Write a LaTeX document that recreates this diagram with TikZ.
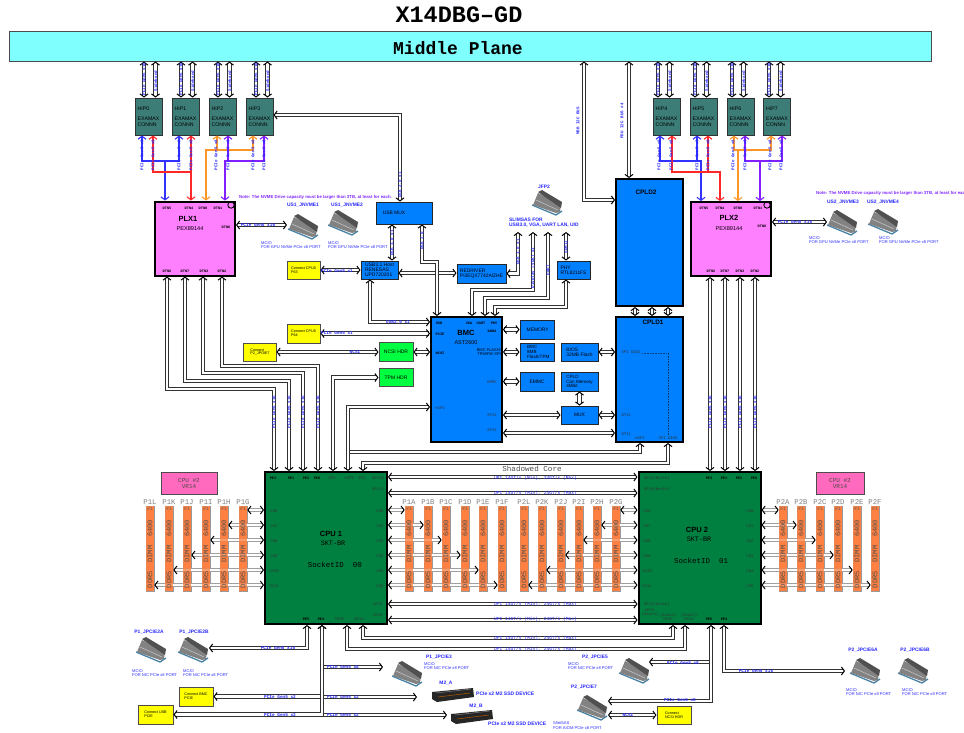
\documentclass[tikz,border=0pt]{standalone}
\usepackage{fontspec}
\setmainfont{Liberation Sans}
\setmonofont{Liberation Mono}
\usetikzlibrary{arrows.meta}
\definecolor{myplane}{RGB}{128,255,255}
\definecolor{myhip}{RGB}{60,125,120}
\definecolor{myplx}{RGB}{255,128,255}
\definecolor{myblue}{RGB}{0,128,255}
\definecolor{mycpu}{RGB}{0,128,64}
\definecolor{mygreen}{RGB}{0,255,64}
\definecolor{myyellow}{RGB}{255,255,0}
\definecolor{mydimm}{RGB}{255,128,64}
\definecolor{myvr}{RGB}{255,105,190}
\definecolor{mybus}{RGB}{50,50,50}
\definecolor{mylabel}{RGB}{40,40,255}
\definecolor{mynote}{RGB}{128,40,255}
\definecolor{wireblue}{RGB}{50,50,255}
\definecolor{wirered}{RGB}{255,40,40}
\definecolor{wireorange}{RGB}{255,150,40}
\definecolor{wirepurple}{RGB}{130,30,255}
\definecolor{myicon}{RGB}{130,130,130}
\definecolor{myicondark}{RGB}{80,80,80}
\definecolor{myiconbase}{RGB}{70,130,165}
\newcommand{\fsz}[1]{\fontsize{#1}{#1}\selectfont}
\tikzset{
  bartip/.tip={Straight Barb[length=3pt,width=8pt,line width=1pt,black]},
  wiretip/.tip={Straight Barb[length=3pt,width=8pt,line width=1.1pt]},
  bus/.style={draw=mybus, line width=1.1pt, double=white, double distance=2.4pt, bartip-bartip},
  busin/.style={draw=mybus, line width=1.1pt, double=white, double distance=2.4pt, -bartip},
  dbus/.style={draw=gray!75, line width=0.9pt, double=white, double distance=2.4pt, bartip-bartip},
  wire/.style={line width=1.2pt, wiretip-wiretip},
  wirein/.style={line width=1.2pt, -wiretip},
  hipbox/.style={rectangle, draw=black!80, fill=myhip, line width=1pt, minimum width=27pt, minimum height=37pt,
    inner sep=1pt, align=left, font=\fsz{5.2}, text=black},
  plxbox/.style={rectangle, draw=black, fill=myplx, line width=2pt, minimum width=80pt, minimum height=74pt},
  bluebox/.style={rectangle, draw=black!85, fill=myblue, line width=1pt, inner sep=1pt, align=left, font=\fsz{4.9}, text=black},
  bigblue/.style={rectangle, draw=black, fill=myblue, line width=2pt},
  yelbox/.style={rectangle, draw=black!70, fill=myyellow, line width=1pt, inner sep=1pt, align=left, font=\fsz{3.7}},
  hdrbox/.style={rectangle, draw=black!70, fill=mygreen, line width=1pt, minimum width=34pt, minimum height=18.5pt, inner sep=1pt, font=\fsz{5}},
  cpubox/.style={rectangle, draw=black, fill=mycpu, line width=2pt, minimum width=122pt, minimum height=152pt},
  dimmbox/.style={rectangle, draw=gray!80, fill=mydimm, line width=0.7pt, minimum width=8pt, minimum height=85pt, inner sep=0pt},
  dimmtxt/.style={font=\ttfamily\fsz{7.1}, text=black!70, inner sep=0pt},
  dimmtop/.style={font=\ttfamily\fsz{7.3}, text=black!50, inner sep=0pt},
  vrbox/.style={rectangle, draw=black!70, fill=myvr, line width=1pt, minimum height=22pt, align=center, font=\ttfamily\fsz{6}, text=black!70, inner sep=0pt},
  buslab/.style={font=\ttfamily\bfseries\fsz{4.4}, text=mylabel, inner sep=0pt},
  upilab/.style={font=\ttfamily\fsz{4.6}, text=mylabel, inner sep=0pt},
  buslabv/.style={font=\ttfamily\bfseries\fsz{4.2}, text=mylabel, inner sep=0pt, rotate=90},
  portlab/.style={font=\ttfamily\bfseries\fsz{3.6}, text=black, inner sep=0pt},
  darklab/.style={font=\ttfamily\fsz{3.9}, text=black!80, inner sep=0pt, align=center},
  iconlab/.style={font=\bfseries\fsz{4.9}, text=mylabel, inner sep=0pt},
  desclab/.style={anchor=west, font=\fsz{4.1}, text=mylabel, inner sep=0pt, align=left},
  notelab/.style={anchor=west, font=\bfseries\fsz{4.35}, text=mynote, inner sep=0pt},
  mcio/.pic={
    \draw[myiconbase, line width=1.3pt] (-15,3) -- (9,13) -- (15,9);
    \fill[myicon] (-14,3) -- (-9,-9) -- (14,2) -- (13,10) -- (9,11) -- cycle;
    \fill[myicondark] (-9,-10) -- (-5,-12) -- (15,0) -- (14,6) -- cycle;
    \draw[gray!40, line width=0.5pt] (-11,-2) -- (11,8);
  },
  mtwo/.pic={
    \fill[black!85] (-21,-3) -- (20,-7) -- (21,2) -- (-16,7) -- (-21,4) -- cycle;
    \draw[orange!70!black, line width=0.5pt] (-15,2) -- (17,-2);
    \draw[gray, line width=0.5pt] (-17,-2) -- (18,-6);
  }
}
\begin{document}
\begin{tikzpicture}[x=1pt,y=-1pt]
  \useasboundingbox (0,0) rectangle (964,732);

  % Title and middle plane
  \node[font=\ttfamily\bfseries\fsz{23.5}, inner sep=0pt] (boardname) at (459,15) {X14DBG–GD};
  \node[rectangle, draw=black!70, fill=myplane, line width=1pt, minimum width=922pt, minimum height=30pt] (midplane) at (470,46) {};
  \node[font=\ttfamily\bfseries\fsz{18}, inner sep=0pt] (planename) at (458,48) {Middle Plane};

  % HIP connectors
  \foreach \i/\cx/\bx in {0/148.5/144,1/185.5/181,2/222.5/218,3/259.5/256,4/666.5/658,5/703.5/695,6/740.5/732,7/777/769}{
    \node[hipbox] (hip\i) at (\cx,116.5) {HIP\i\\[5pt]EXAMAX\\[1pt]CONNN};
    \draw[bus] (\bx,0 |- midplane.south) -- (\bx,0 |- hip\i.north);
    \draw[bus] (\bx+11.5,0 |- midplane.south) -- (\bx+11.5,0 |- hip\i.north);
    \node[buslabv] (hipa\i) at (\bx,79) {PCIe Gen5 x16};
    \node[buslabv] (hipb\i) at (\bx+11.5,81) {Sideband};
  }

  % PLX switches
  \node[plxbox] (plxone) at (195,238.5) {};
  \node[plxbox] (plxtwo) at (731,239) {};
  \draw[black, line width=0.9pt] (231,205) circle (3.2);
  \draw[black, line width=0.9pt] (767,205) circle (3.2);
  \node[font=\bfseries\fsz{7.5}, inner sep=0pt] (plxonet) at (188,219) {PLX1};
  \node[font=\fsz{5.6}, inner sep=0pt] (plxonep) at (190,228.5) {PEX89144};
  \node[font=\bfseries\fsz{7.5}, inner sep=0pt] (plxtwot) at (729,218) {PLX2};
  \node[font=\fsz{5.6}, inner sep=0pt] (plxtwop) at (729,229) {PEX89144};

  % Colour wires from the switches to the HIP connectors
  \draw[wireblue, wire] (142,0 |- hip0.south) -- (142,161) -- (179,161) -- (179,0 |- hip1.south);
  \draw[wireblue, wirein] (165,161) -- (165,0 |- plxone.north);
  \draw[wirered, wire] (153,0 |- hip0.south) -- (153,172) -- (191,172) -- (191,0 |- plxone.north);
  \draw[wirered, wirein] (191,172) -- (191,0 |- hip1.south);
  \draw[wireorange, wire] (217,0 |- hip2.south) -- (217,150) -- (253,150) -- (253,0 |- hip3.south);
  \draw[wireorange, wirein] (217,150) -- (206,150) -- (206,0 |- plxone.north);
  \draw[wirepurple, wire] (228,0 |- hip2.south) -- (228,161) -- (264,161) -- (264,0 |- hip3.south);
  \draw[wirepurple, wirein] (228,161) -- (225,161) -- (225,0 |- plxone.north);
  \draw[wireblue, wire] (660,0 |- hip4.south) -- (660,161) -- (697,161) -- (697,0 |- hip5.south);
  \draw[wireblue, wirein] (697,161) -- (701,161) -- (701,0 |- plxtwo.north);
  \draw[wirered, wire] (672,0 |- hip4.south) -- (672,172) -- (720,172) -- (720,0 |- plxtwo.north);
  \draw[wirered, wirein] (708,172) -- (708,0 |- hip5.south);
  \draw[wireorange, wire] (734,0 |- hip6.south) -- (734,150) -- (771,150) -- (771,0 |- hip7.south);
  \draw[wireorange, wirein] (738,150) -- (738,0 |- plxtwo.north);
  \draw[wirepurple, wire] (745,0 |- hip6.south) -- (745,161) -- (782,161) -- (782,0 |- hip7.south);
  \draw[wirepurple, wirein] (760,161) -- (760,0 |- plxtwo.north);

  % CPUs and VR boxes
  \node[cpubox] (cpuone) at (326,548) {};
  \node[cpubox] (cputwo) at (699.5,548) {};
  \node[vrbox, minimum width=56pt] (vrone) at (189,483) {CPU \#2\\VR14};
  \node[vrbox, minimum width=48pt] (vrtwo) at (840,483) {CPU \#2\\VR14};
  \node[font=\bfseries\fsz{7.5}, inner sep=0pt] (cpuonet) at (331,534) {CPU 1};
  \node[font=\ttfamily\fsz{6.8}, text=black, inner sep=0pt] (cpuones) at (333,543) {SKT-BR};
  \node[font=\ttfamily\fsz{7.5}, text=black, inner sep=0pt] (cpuonei) at (335,565) {SocketID\ \ 00};
  \node[font=\bfseries\fsz{7.5}, inner sep=0pt] (cputwot) at (697,530) {CPU 2};
  \node[font=\ttfamily\fsz{6.8}, text=black, inner sep=0pt] (cputwos) at (699,539) {SKT-BR};
  \node[font=\ttfamily\fsz{7.5}, text=black, inner sep=0pt] (cputwoi) at (701,561) {SocketID\ \ 01};

  % DIMM slots
  \foreach \lab/\cx in {P1L/150,P1K/169,P1J/187,P1I/206,P1H/224,P1G/243,P1A/409,P1B/428,P1C/446,P1D/465,P1E/483,P1F/502,
      P2L/524,P2K/542,P2J/561,P2I/579,P2H/597,P2G/616,P2A/783,P2B/801,P2C/820,P2D/838,P2E/857,P2F/875}{
    \node[dimmbox] (\lab) at (\cx,548.5) {};
    \node[dimmtop] (\lab name) at (\cx,502) {\lab};
  }

  % Memory channels
  \foreach \lab/\chn/\yy in {P1G/CH6/510,P1H/CH7/525,P1I/CH8/540,P1J/CH9/555,P1K/CH10/570,P1L/CH11/585}{
    \draw[dbus] (cpuone.west |- 0,\yy) -- (\lab.east |- 0,\yy);
    \node[darklab] (\lab ch) at (274,\yy+1.5) {\chn};
  }
  \foreach \lab/\chn/\yy in {P1A/CH0/510,P1B/CH1/525,P1C/CH2/540,P1D/CH3/555,P1E/CH4/570,P1F/CH5/585}{
    \draw[dbus] (cpuone.east |- 0,\yy) -- (\lab.west |- 0,\yy);
    \node[darklab] (\lab ch) at (380,\yy+1.5) {\chn};
  }
  \foreach \lab/\chn/\yy in {P2G/CH6/510,P2H/CH7/525,P2I/CH8/540,P2J/CH9/555,P2K/CH10/570,P2L/CH11/585}{
    \draw[dbus] (cputwo.west |- 0,\yy) -- (\lab.east |- 0,\yy);
    \node[darklab] (\lab ch) at (647,\yy+1.5) {\chn};
  }
  \foreach \lab/\chn/\yy in {P2A/CH0/510,P2B/CH1/525,P2C/CH2/540,P2D/CH3/555,P2E/CH4/570,P2F/CH5/585}{
    \draw[dbus] (cputwo.east |- 0,\yy) -- (\lab.west |- 0,\yy);
    \node[darklab] (\lab ch) at (750,\yy+1.5) {\chn};
  }
  % Slot faces stay readable over the channels that cross them
  \foreach \lab/\cx in {P1L/150,P1K/169,P1J/187,P1I/206,P1H/224,P1G/243,P1A/409,P1B/428,P1C/446,P1D/465,P1E/483,P1F/502,
      P2L/524,P2K/542,P2J/561,P2I/579,P2H/597,P2G/616,P2A/783,P2B/801,P2C/820,P2D/838,P2E/857,P2F/875}{
    \fill[mydimm, fill opacity=0.78] (\lab.south west) rectangle (\lab.north east);
    \node[dimmtxt, rotate=90] (\lab txt) at (\cx,554) {DDR5\ \ DIMM\ \ 6400};
    \node[font=\ttfamily\fsz{4.6}, text=black!65, inner sep=0pt] (\lab top) at (\cx,509) {\#1};
  }

  % BMC, CPLD and their devices
  \node[bigblue, minimum width=71pt, minimum height=125pt] (bmc) at (466.5,379.5) {};
  \node[bigblue, minimum width=67pt, minimum height=125pt] (cpldone) at (649.5,379.5) {};
  \node[bigblue, minimum width=67pt, minimum height=127pt] (cpldtwo) at (649.5,242.5) {};
  \node[font=\fsz{7.5}, inner sep=0pt] (bmct) at (466,333) {\textbf{BMC}};
  \node[font=\fsz{5.5}, inner sep=0pt] (bmcp) at (466,343) {AST2600};
  \node[font=\bfseries\fsz{6.4}, inner sep=0pt] (cpldonet) at (653,322) {CPLD1};
  \node[font=\bfseries\fsz{6.4}, inner sep=0pt] (cpldtwot) at (646,192) {CPLD2};
  \draw[black!50!myblue, densely dotted, line width=0.6pt] (642,353) -- (668,353) -- (668,435);
  \node[bluebox, minimum width=56pt, minimum height=22pt] (usbmux) at (404,213) {USB MUX\kern20pt};
  \node[bluebox, minimum width=37pt, minimum height=18pt, font=\fsz{5}] (usbhost) at (379.5,270) {USB3.1 Host\\RENESAS\\UPD720201};
  \node[bluebox, minimum width=49pt, minimum height=19pt] (redriver) at (481.5,273.5) {REDRIVER\\PI3EQX7742AIZHE};
  \node[bluebox, minimum width=33pt, minimum height=18pt] (phy) at (573.5,270) {PHY\\RTL8211FS};
  \node[bluebox, minimum width=34pt, minimum height=19pt] (memory) at (537,329.5) {\ MEMORY};
  \node[bluebox, minimum width=34pt, minimum height=18pt, font=\fsz{4.6}] (bmcflash) at (537,352) {\ \ BMC\\\ \ 8MB\\\ \ Flash/TPM};
  \node[bluebox, minimum width=34pt, minimum height=19pt] (emmc) at (537,381.5) {EMMC};
  \node[bluebox, minimum width=37pt, minimum height=18pt] (bios) at (579.5,352) {BIOS\\32MB Flash};
  \node[bluebox, minimum width=37pt, minimum height=19pt, font=\fsz{4.6}] (conmem) at (579.5,381.5) {CPLD\\Con Memory\\4Mbit};
  \node[bluebox, minimum width=37pt, minimum height=18pt] (mux) at (579.5,415) {MUX};
  \node[hdrbox] (ncsihdr) at (396,352) {NCSI HDR};
  \node[hdrbox] (tpmhdr) at (396,377.5) {TPM HDR};
  \node[yelbox, minimum width=33pt, minimum height=18pt] (conpzero) at (303.5,270) {Connect CPU0\\P63};
  \node[yelbox, minimum width=33pt, minimum height=19pt] (conpfour) at (303.5,333.5) {Connect CPU0\\P64};
  \node[yelbox, minimum width=33pt, minimum height=18pt] (conjpc) at (259.5,352) {\ Connect\\\ P2\_JPOIE7};
  \node[yelbox, minimum width=34pt, minimum height=19pt] (conbmc) at (196,696.5) {Connect BMC\\PCIE};
  \node[yelbox, minimum width=35pt, minimum height=19pt] (conusb) at (155.5,714.5) {Connect USB\\PCIE};
  \node[yelbox, minimum width=34pt, minimum height=18pt] (conncsi) at (674,715) {Connect\\NCSI HDR};
  \node[iconlab, anchor=west, font=\bfseries\fsz{4.9}, align=left] (slimsas) at (509,223) {SLIMSAS FOR\\USB3.0, VGA, UART LAN, UID};

  % Free ends at the connector icons
  \coordinate (slimbot) at (518,232);
  \coordinate (nvmeone) at (287,225);
  \coordinate (nvmethree) at (827,222);
  \coordinate (jpcietwob) at (209,648);
  \coordinate (jpciethree) at (383,667);
  \coordinate (mtwoa) at (417,697);
  \coordinate (mtwob) at (447,715);
  \coordinate (jpciefive) at (649,662);
  \coordinate (jpcieseven) at (608,701);
  \coordinate (jpcieseveb) at (608,715);
  \coordinate (jpciesixa) at (845,671);

  % Connector icons
  \foreach \cx/\cy in {303/226,343/222,842/222,883/221,547/202,151/649,193/649,407/673,634/670,592/707,865/670,913/670}{
    \pic at (\cx,\cy) {mcio};
  }
  \pic at (453,695) {mtwo};
  \pic at (472,717) {mtwo};

  % Buses around the switches
  \draw[bus] (plxone.east |- nvmeone) -- (nvmeone);
  \draw[bus] (plxtwo.east |- nvmethree) -- (nvmethree);
  \foreach \px/\py/\cx in {167/389/274,185/381/289,203/373/303,222/366/318}{
    \draw[bus] (\px,0 |- plxone.south) -- (\px,\py) -- (\cx,\py) -- (\cx,0 |- cpuone.north);
  }
  \foreach \px in {710,725,740,755}{
    \draw[bus] (\px,0 |- plxtwo.south) -- (\px,0 |- cputwo.north);
  }
  \draw[bus] (584,0 |- midplane.south) -- (584,200) -- (cpldtwo.west |- 0,200);
  \draw[bus] (629,0 |- midplane.south) -- (629,0 |- cpldtwo.north);

  % USB and BMC buses
  \draw[bus] (400,0 |- usbmux.north) -- (400,115) -- (hip3.east |- 0,115);
  \draw[bus] (392,0 |- usbhost.north) -- (392,0 |- usbmux.south);
  \draw[bus] (usbhost.east |- 0,273) -- (redriver.west |- 0,273);
  \draw[bus] (422,0 |- usbmux.south) -- (422,262) -- (437,262) -- (437,0 |- bmc.north);
  \draw[bus] (conpzero.east) -- (usbhost.west |- conpzero.east);
  \draw[bus] (370,0 |- usbhost.south) -- (370,322) -- (bmc.west |- 0,322);
  \draw[bus] (conpfour.east) -- (bmc.west |- conpfour.east);
  \draw[bus] (conjpc.east) -- (ncsihdr.west);
  \draw[bus] (ncsihdr.east) -- (bmc.west |- ncsihdr.east);
  \draw[bus] (tpmhdr.west) -- (333,0 |- tpmhdr.west) -- (333,0 |- cpuone.north);
  \draw[bus] (bmc.west |- 0,407) -- (348,407) -- (348,0 |- cpuone.north);
  \draw[busin, bartip-] (640,0 |- cpldone.south) -- (640,452) -- (350.3,452);
  \draw[bus] (668,0 |- cpldone.south) -- (668,463) -- (363,463) -- (363,0 |- cpuone.north);
  \draw[bus] (redriver.east) -- (518,0 |- redriver.east) -- (518,0 |- slimbot);
  \draw[bus] (472,0 |- bmc.north) -- (472,290) -- (533,290) -- (533,0 |- slimbot);
  \draw[bus] (485,0 |- bmc.north) -- (485,298) -- (548,298) -- (548,0 |- slimbot);
  \draw[bus] (495,0 |- bmc.north) -- (495,307) -- (566,307) -- (566,0 |- phy.south);
  \draw[bus] (566,0 |- phy.north) -- (566,0 |- slimbot);
  \draw[bus] (bmc.east |- memory.west) -- (memory.west);
  \draw[bus] (bmc.east |- bmcflash.west) -- (bmcflash.west);
  \draw[bus] (bmc.east |- emmc.west) -- (emmc.west);
  \draw[bus] (bmc.east |- mux.west) -- (mux.west);
  \draw[bus] (bmc.east |- 0,433) -- (cpldone.west |- 0,433);
  \draw[bus] (bios.east) -- (cpldone.west |- bios.east);
  \draw[bus] (mux.east) -- (cpldone.west |- mux.east);
  \draw[bus] (conmem.south) -- (mux.north);
  \foreach \px in {635,652,668}{
    \draw[bus] (\px,0 |- cpldtwo.south) -- (\px,0 |- cpldone.north);
  }

  % UPI buses
  \foreach \yy in {477,493,604,620}{
    \draw[bus] (cpuone.east |- 0,\yy) -- (cputwo.west |- 0,\yy);
  }
  \draw[bus] (347,0 |- cpuone.south) -- (347,649) -- (685,649) -- (685,0 |- cputwo.south);
  \draw[bus] (363,0 |- cpuone.south) -- (363,638) -- (673,638) -- (673,0 |- cputwo.south);

  % PCIe buses under the CPUs
  \draw[bus] (307,0 |- cpuone.south) -- (307,0 |- jpcietwob) -- (jpcietwob);
  \draw[bus] (322,0 |- cpuone.south) -- (322,0 |- conbmc.east) -- (conbmc.east);
  \draw[bus] (322,0 |- cpuone.south) -- (322,0 |- conusb.east) -- (conusb.east);
  \draw[busin] (323.8,0 |- jpciethree) -- (jpciethree);
  \draw[busin] (323.8,0 |- mtwoa) -- (mtwoa);
  \draw[busin] (323.8,0 |- mtwob) -- (mtwob);
  \draw[bus] (711,0 |- cputwo.south) -- (711,0 |- jpcieseven) -- (jpcieseven);
  \draw[busin] (709.2,0 |- jpciefive) -- (jpciefive);
  \draw[bus] (724,0 |- cputwo.south) -- (724,0 |- jpciesixa) -- (jpciesixa);
  \draw[bus] (jpcieseveb) -- (conncsi.west |- jpcieseveb);

  % Bus labels
  \foreach \n/\cx/\cy/\txt in {la/258/225/PCIe Gen5 x16,lb/795/222/PCIe Gen5 x16,lc/337/271/PCIe Gen5 x1,ld/337/333/PCIe Gen5 x1,
      le/355/352/NCSI,lf/398/322/USB2.0 x1,lg/278/648/PCIe Gen5 x16,lh/343/667/PCIe Gen5 x8,li/280/697/PCIe Gen5 x2,
      lj/343/697/PCIe Gen5 x2,lk/280/715/PCIe Gen5 x2,ll/343/715/PCIe Gen5 x2,lm/683/663/PCIe Gen5 x8,ln/680/700/PCIe Gen5 x8,
      lo/756/671/PCIe Gen5 x16,lp/628/715/NCSI}{
    \node[buslab] (\n) at (\cx,\cy) {\txt};
  }
  \foreach \n/\cy in {ua/478,ub/493,uc/604,ud/619,ue/638,uf/649}{
    \node[upilab] (\n) at (535.5,\cy) {UPI 14GT/s (Min), 24GT/s (Max)};
  }
  \node[font=\ttfamily\fsz{7.6}, text=black!70, inner sep=0pt] (shadow) at (532,469) {Shadowed Core};
  \foreach \n/\cx/\cy/\txt in {va/274/412/PCIe Gen5 x16,vb/289/412/PCIe Gen5 x16,vc/303/412/PCIe Gen5 x16,vd/318/412/PCIe Gen5 x16,
      ve/710/412/PCIe Gen5 x16,vf/725/412/PCIe Gen5 x16,vg/740/412/PCIe Gen5 x16,vh/755/412/PCIe Gen5 x16,
      vi/400/185/USB 2.0 x1,vj/392/243/USB 3.0 x1,vk/422/241/USB 2.0,vl/518/252/USB 3.0 x1,vm/533/268/Display (VGA) x1,
      vn/548/270/UART,vo/566/247/SGMII,vp/578/121/MBB I2C BUS,vq/622/121/PDU I2C BUS \#4}{
    \node[buslabv] (\n) at (\cx,\cy) {\txt};
  }
  \foreach \n/\cx in {wa/142,wb/153,wc/179,wd/191,we/216,wf/228,wg/253,wh/264,wi/659,wj/671,wk/697,wl/708,wm/733,wn/745,wo/770,wp/781}{
    \node[buslabv] (\n) at (\cx,155) {PCIe Gen5 x8};
  }

  % Port names
  \foreach \n/\cx/\cy/\txt in {pa/167/208/DTN5,pb/189/208/DTN4,pc/203/208/DTN0,pd/218/208/DTN1,pe/226/227/DTN8,pf/167/271/DTN6,pg/185/271/DTN7,ph/204/271/DTN3,pi/222/271/DTN2,
      pj/704/208/DTN5,pk/720/208/DTN4,pl/738/208/DTN0,pm/758/208/DTN1,pn/762/226/DTN8,po/711/271/DTN6,pp/725/271/DTN7,pq/740/271/DTN3,pr/755/271/DTN2,
      ps/273/478/PE3,pt/291/478/PE1,pu/306/478/PE2,pv/317/478/PE0,pw/306/619/PE5,px/321/619/PE4,
      qa/709/478/PE3,qb/724/478/PE1,qc/739/478/PE2,qd/754/478/PE0,qe/709/619/PE5,qf/724/619/PE4,
      qg/439/323/USB,qh/440/334/PCIE,qi/440/353/NCSI,qj/469/323/VGA,qk/481/323/UART,ql/494/323/PHY,qm/492/331/DDR4}{
    \node[portlab] (\n) at (\cx,\cy) {\txt};
  }
  \foreach \n/\cx/\cy/\txt in {ra/332/478/SPI,rb/349/478/eSPI,rc/362/478/SPI,rd/378/478/UPI10,re/378/489/UPI11,rf/378/604/UP12,rg/378/615/UP13,rh/340/619/UP15,ri/359/619/UP14,
      rj/492/382/EMMC,rk/492/415/SPI2,rl/492/430/SPI1,rm/440/408/eSPI,rn/631/352/SPI DIOS,ro/626/415/SPI2,rp/626/434/SPI1,rq/640/438/eSPI,rr/668/438/SPI DIOS,
      rs/657/478/UP11(North),rt/657/489/UP10(North),ru/657/604/UP13(South),rv/650/613/UP12\\(South),rw/668/617/(South)\\UP15,rx/689/617/(South)\\UP14}{
    \node[darklab] (\n) at (\cx,\cy) {\txt};
  }
  \node[font=\fsz{4}, inner sep=0pt, align=right, anchor=east] (bmcflab) at (501,352) {BMC FLASH/\\TPM/FW SPI};

  % Icon names and notes
  \foreach \n/\cx/\cy/\txt in {ia/303/205/US1\_JNVME1,ib/347/205/US1\_JNVME2,ic/843/202/US2\_JNVME3,id/883/202/US2\_JNVME4,ie/544/187/JFP2,
      ig/149/632/P1\_JPCIE2A,ih/194/632/P1\_JPCIE2B,ii/439/657/P1\_JPCIE3,ij/446/683/M2\_A,ik/476/706/M2\_B,
      il/595/657/P2\_JPCIE5,im/584/687/P2\_JPCIE7,in/863/650/P2\_JPCIE6A,io/915/650/P2\_JPCIE6B}{
    \node[iconlab] (\n) at (\cx,\cy) {\txt};
  }
  \foreach \n/\cx/\cy in {da/261/245,db/328/245}{
    \node[desclab] (\n) at (\cx,\cy) {MCIO\\FOR GPU NVMe PCIe x8 PORT};
  }
  \foreach \n/\cx/\cy in {dc/809/240.5,dd/879/240.5}{
    \node[desclab] (\n) at (\cx,\cy) {MCIO\\FOR GPU NVMe PCIe x8 PORT};
  }
  \foreach \n/\cx/\cy in {de/132/673.5,df/183/673.5,dg/424/666.5,dh/568/666.5,di/846/692.5,dj/902/692.5}{
    \node[desclab] (\n) at (\cx,\cy) {MCIO\\FOR NIC PCIe x8 PORT};
  }
  \node[desclab] (dk) at (553,725.5) {SlimSAS\\FOR AIOM PCIe x8 PORT};
  \node[iconlab, anchor=west, font=\bfseries\fsz{5}] (ma) at (476,694) {PCIe x2 M2 SSD DEVICE};
  \node[iconlab, anchor=west, font=\bfseries\fsz{5}] (mb) at (488,724) {PCIe x2 M2 SSD DEVICE};
  \node[notelab] (notea) at (239,197) {Note: The NVME Drive capacity must be larger than 3TB, at least for each.};
  \node[notelab] (noteb) at (816,193) {Note: The NVME Drive capacity must be larger than 3TB, at least for each.};
\end{tikzpicture}
\end{document}
